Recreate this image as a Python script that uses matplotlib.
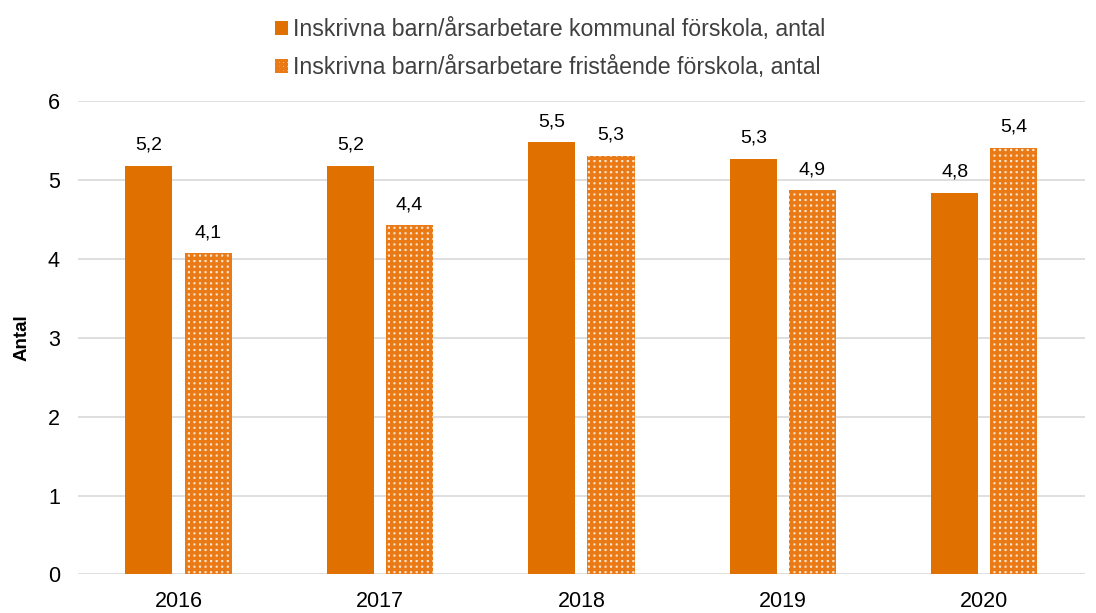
import matplotlib
matplotlib.use("Agg")
import matplotlib.pyplot as plt
import numpy as np
from matplotlib.patches import Patch

plt.rcParams['font.family'] = ['Liberation Sans', 'DejaVu Sans']
plt.rcParams['hatch.linewidth'] = 2.4

years = ["2016", "2017", "2018", "2019", "2020"]
kommunal = [5.18, 5.18, 5.48, 5.27, 4.84]
fristaende = [4.07, 4.43, 5.31, 4.87, 5.41]
label_k = "Inskrivna barn/årsarbetare kommunal förskola, antal"
label_f = "Inskrivna barn/årsarbetare fristående förskola, antal"

orange = "#e07000"
text_col = "#404040"
hatch_face = "#fbe3cc"
hatch_edge = "#ea7a16"

fig = plt.figure(figsize=(10.96, 6.13), dpi=100)
ax = fig.add_axes([0.071, 0.063, 0.919, 0.772])

x = np.arange(len(years))
w = 0.234
off = 0.147
b1 = ax.bar(x - off, kommunal, w, color=orange, linewidth=0, zorder=3)
b2 = ax.bar(x + off, fristaende, w, color=hatch_face, edgecolor=hatch_edge,
            hatch="+++", linewidth=0, zorder=3)

for bars, vals in ((b1, kommunal), (b2, fristaende)):
    for r, v in zip(bars, vals):
        ax.text(r.get_x() + r.get_width() / 2, v + 0.15, f"{v:.1f}".replace(".", ","),
                ha="center", va="bottom", fontsize=14, color="#000000")

ax.set_ylim(0, 6)
ax.set_xlim(-0.5, 4.5)
ax.set_yticks(range(0, 7))
ax.set_xticks(x)
ax.set_xticklabels(years)
ax.tick_params(axis="both", length=0, labelsize=15.5, colors="#000000")
ax.tick_params(axis="y", pad=13)
ax.tick_params(axis="x", pad=12)
ax.yaxis.grid(True, color="#d9d9d9", linewidth=1.2, zorder=0)
for s in ax.spines.values():
    s.set_visible(False)
ax.set_ylabel("Antal", fontsize=13.5, fontweight="bold", labelpad=12)

handles = [Patch(facecolor=orange, edgecolor="none"),
           Patch(facecolor=hatch_face, edgecolor=hatch_edge, hatch="++++", linewidth=0)]
fig.legend(handles, [label_k, label_f], loc="upper center", bbox_to_anchor=(0.502, 1.004),
           ncol=1, frameon=False, fontsize=16.7, handlelength=0.55, handleheight=0.55,
           handletextpad=0.2, labelspacing=0.65, labelcolor=text_col)

fig.savefig("out.png", dpi=100)
